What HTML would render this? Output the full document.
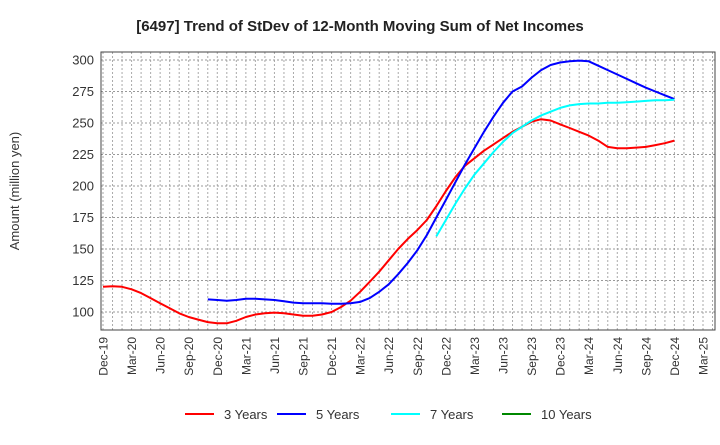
<!DOCTYPE html>
<html><head><meta charset="utf-8"><style>
body{margin:0;background:#fff;font-family:"Liberation Sans",sans-serif}
svg text{font-family:"Liberation Sans",sans-serif}
</style></head><body>
<svg width="720" height="440" viewBox="0 0 720 440">
<text x="360" y="31" text-anchor="middle" font-size="15" font-weight="bold" fill="#222">[6497]  Trend of StDev of 12-Month Moving Sum of Net Incomes</text>
<g id="grid"></g>
<g id="yticks"></g>
<g id="xticks"></g>
<g id="series"></g>
<rect x="101" y="52" width="614" height="278" fill="none" stroke="#444" stroke-width="1"/>
<text transform="translate(19,191) rotate(-90)" text-anchor="middle" font-size="13" fill="#333">Amount (million yen)</text>
<g>
<g><line x1="185" y1="414" x2="214" y2="414" stroke="#f00" stroke-width="2"/><text x="224" y="419" font-size="13" fill="#333">3 Years</text></g>
<g><line x1="277" y1="414" x2="306" y2="414" stroke="#00f" stroke-width="2"/><text x="316" y="419" font-size="13" fill="#333">5 Years</text></g>
<g><line x1="391" y1="414" x2="420" y2="414" stroke="#0ff" stroke-width="2"/><text x="430" y="419" font-size="13" fill="#333">7 Years</text></g>
<g><line x1="502" y1="414" x2="531" y2="414" stroke="#080" stroke-width="2"/><text x="541" y="419" font-size="13" fill="#333">10 Years</text></g>
</g>
</svg>
<script>
const xLabels=["Dec-19","Mar-20","Jun-20","Sep-20","Dec-20","Mar-21","Jun-21","Sep-21","Dec-21","Mar-22","Jun-22","Sep-22","Dec-22","Mar-23","Jun-23","Sep-23","Dec-23","Mar-24","Jun-24","Sep-24","Dec-24","Mar-25"];
const yTicks=[100,125,150,175,200,225,250,275,300];
const s3Start=0;
const s3=[120,120.5,120,118,115,111,107,103,99,96,94,92,91,91,93,96,98,99,99.5,99,98,97,97,98,100,104,109,116,124,132,141,150,158,165,173,184,196,207,216,222,228,233,238,243,247,251,253,252,249,246,243,240,236,231,230,230,230.5,231,232.5,234,236];
const s5Start=11;
const s5=[110,109.5,109,109.5,110.5,110.5,110,109.5,108.5,107.5,107,107,107,106.5,106.5,107,108,111,116,122,130,139,149,161,175,189,203,217,230,243,255,266,275,279,286,292,296,298,299,299.5,299,295.5,292,288.5,285,281.5,278,275,272,269];
const s7Start=35;
const s7=[160,173,186,198,209,218,227,235,242,247,252,256,259,262,264,265,265.5,265.5,266,266,266.5,267,267.5,268,268,268.5];
const s10Start=0;
const s10=[];
const NS="http://www.w3.org/2000/svg";
const X0=103,X1=703,Y0=312,Y1=60;
const xm=m=>X0+(X1-X0)*m/63;
const yv=v=>Y0+(Y1-Y0)*(v-100)/200;
const grid=document.getElementById('grid'),xt=document.getElementById('xticks'),yt=document.getElementById('yticks'),ser=document.getElementById('series');
for(let m=0;m<=64;m++){const x=xm(m);if(x>714)break;
const l=document.createElementNS(NS,'line');


l.setAttribute('x1',x);l.setAttribute('x2',x);l.setAttribute('y1',52);l.setAttribute('y2',330);l.setAttribute('stroke','#aaa');l.setAttribute('stroke-dasharray','2,2');l.setAttribute('stroke-width','1');grid.appendChild(l);}
yTicks.forEach(v=>{const y=yv(v);
const l=document.createElementNS(NS,'line');


l.setAttribute('x1',101);l.setAttribute('x2',715);l.setAttribute('y1',y);l.setAttribute('y2',y);l.setAttribute('stroke','#999');l.setAttribute('stroke-dasharray','2,2');grid.appendChild(l);
const t=document.createElementNS(NS,'text');


t.setAttribute('x',94);t.setAttribute('y',y+4.5);t.setAttribute('text-anchor','end');t.setAttribute('font-size','13');t.setAttribute('fill','#333');t.textContent=v;yt.appendChild(t);});
xLabels.forEach((lab,i)=>{const x=xm(i*3);
const t=document.createElementNS(NS,'text');


t.setAttribute('transform','translate('+(x+4.5)+',337) rotate(-90)');t.setAttribute('text-anchor','end');t.setAttribute('font-size','12');t.setAttribute('fill','#333');t.textContent=lab;xt.appendChild(t);});
function draw(arr,start,color,name){if(!arr.length)return;
const p=document.createElementNS(NS,'polyline');


p.setAttribute('points',arr.map((v,i)=>xm(start+i).toFixed(1)+','+yv(v).toFixed(1)).join(' '));
p.setAttribute('fill','none');p.setAttribute('stroke',color);p.setAttribute('stroke-width','2');p.setAttribute('stroke-linejoin','round');ser.appendChild(p);}
draw(s3,s3Start,'#f00','line-3-years');
draw(s5,s5Start,'#00f','line-5-years');
draw(s7,s7Start,'#0ff','line-7-years');
draw(s10,s10Start,'#080','line-10-years');
</script>
</body></html>
